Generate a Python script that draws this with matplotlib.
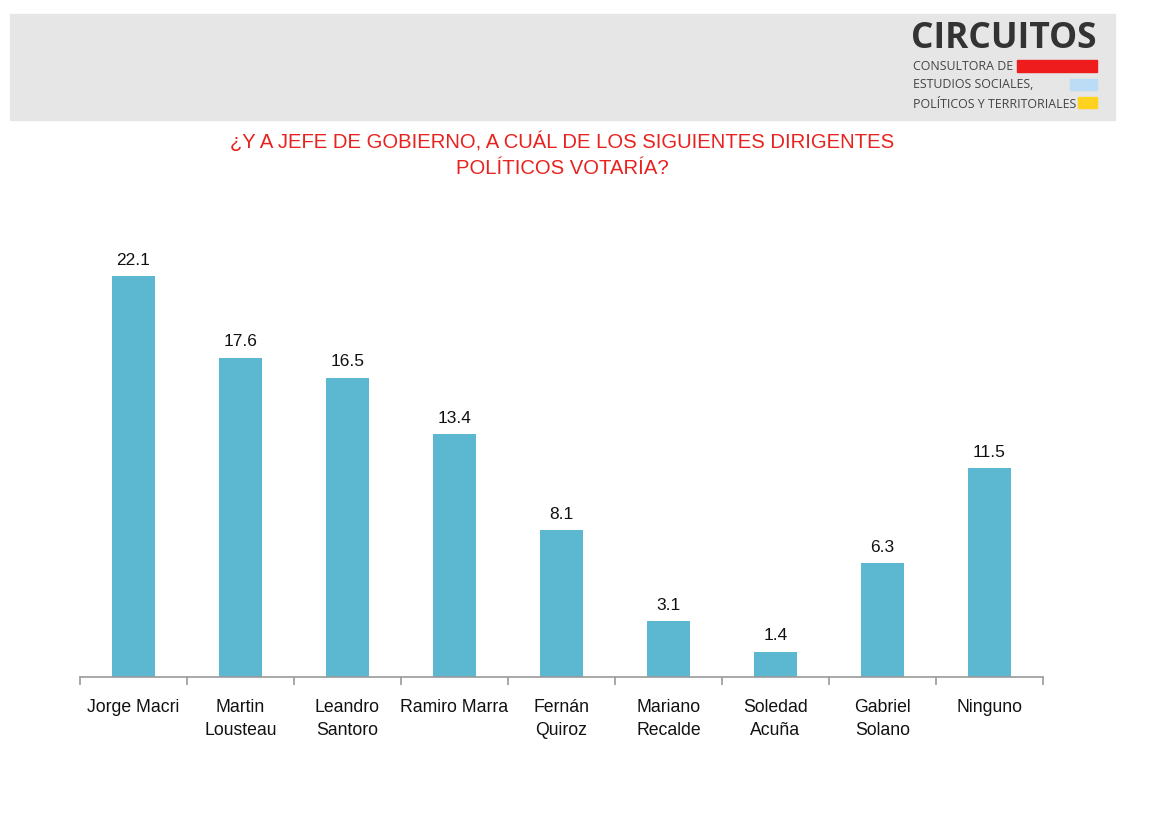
import matplotlib.pyplot as plt
from matplotlib.patches import Rectangle
import numpy as np

plt.rcParams['font.family'] = ['Liberation Sans', 'DejaVu Sans']

candidatos = ['Jorge Macri', 'Martin\nLousteau', 'Leandro\nSantoro', 'Ramiro Marra',
              'Fernán\nQuiroz', 'Mariano\nRecalde', 'Soledad\nAcuña', 'Gabriel\nSolano', 'Ninguno']
valores = [22.1, 17.6, 16.5, 13.4, 8.1, 3.1, 1.4, 6.3, 11.5]

W, H = 1170, 833
fig = plt.figure(figsize=(W / 100, H / 100), dpi=100)
fig.patch.set_facecolor('white')

def fx(px): return px / W
def fy(py): return 1 - py / H

# franja gris de cabecera
fig.patches.append(Rectangle((fx(10), fy(120)), fx(1115) - fx(10), fy(14) - fy(120),
                             transform=fig.transFigure, color='#e6e6e6', zorder=0))

# logo
fig.text(fx(911), fy(39), 'CIRCUITOS', fontsize=25.5, fontweight='bold', color='#333333',
         family=['Open Sans', 'DejaVu Sans'], va='center', ha='left')
sub = ['CONSULTORA DE', 'ESTUDIOS SOCIALES,', 'POLÍTICOS Y TERRITORIALES']
ys = [66, 85, 104]
for s, y in zip(sub, ys):
    fig.text(fx(913), fy(y), s, fontsize=8.9, color='#444444', va='center', ha='left',
             family=['Open Sans', 'DejaVu Sans'])
cajas = [(1017, 60, 1097, 72, '#ee1c1c'), (1070, 79, 1097, 90, '#bcdcf5'), (1078, 97, 1097, 108, '#ffd21f')]
for x0, y0, x1, y1, c in cajas:
    fig.patches.append(Rectangle((fx(x0), fy(y1)), fx(x1) - fx(x0), fy(y0) - fy(y1),
                                 transform=fig.transFigure, color=c, zorder=1))

# título
fig.text(fx(562), fy(155), '¿Y A JEFE DE GOBIERNO, A CUÁL DE LOS SIGUIENTES DIRIGENTES\nPOLÍTICOS VOTARÍA?',
         ha='center', va='center', color='#e8231f', fontsize=14.6, linespacing=1.45)

ax = fig.add_axes([fx(80), fy(677), fx(1043) - fx(80), (401 / 22.1 * 25) / H])
x = np.arange(len(candidatos))
bars = ax.bar(x, valores, width=0.4, color='#5bb8d0')
for xi, v in zip(x, valores):
    ax.text(xi, v + 0.45, f'{v:.1f}', ha='center', va='bottom', fontsize=12.5, color='#111111')

ax.set_xlim(-0.5, len(candidatos) - 0.5)
ax.set_ylim(0, 25)
ax.set_yticks([])
for s in ['top', 'right', 'left']:
    ax.spines[s].set_visible(False)
ax.spines['bottom'].set_color('#999999')
ax.spines['bottom'].set_linewidth(1.2)
ax.set_xticks(np.arange(-0.5, len(candidatos), 1), minor=False)
ax.set_xticklabels([])
ax.tick_params(axis='x', which='major', length=6, color='#999999', width=1.2)
ax.set_xticks(x, minor=True)
ax.set_xticklabels(candidatos, minor=True, fontsize=12.7, color='#111111', linespacing=1.45)
ax.tick_params(axis='x', which='minor', length=0, pad=16)
for lbl in ax.get_xticklabels(minor=True):
    lbl.set_va('top')

fig.savefig('out.png', dpi=100)
